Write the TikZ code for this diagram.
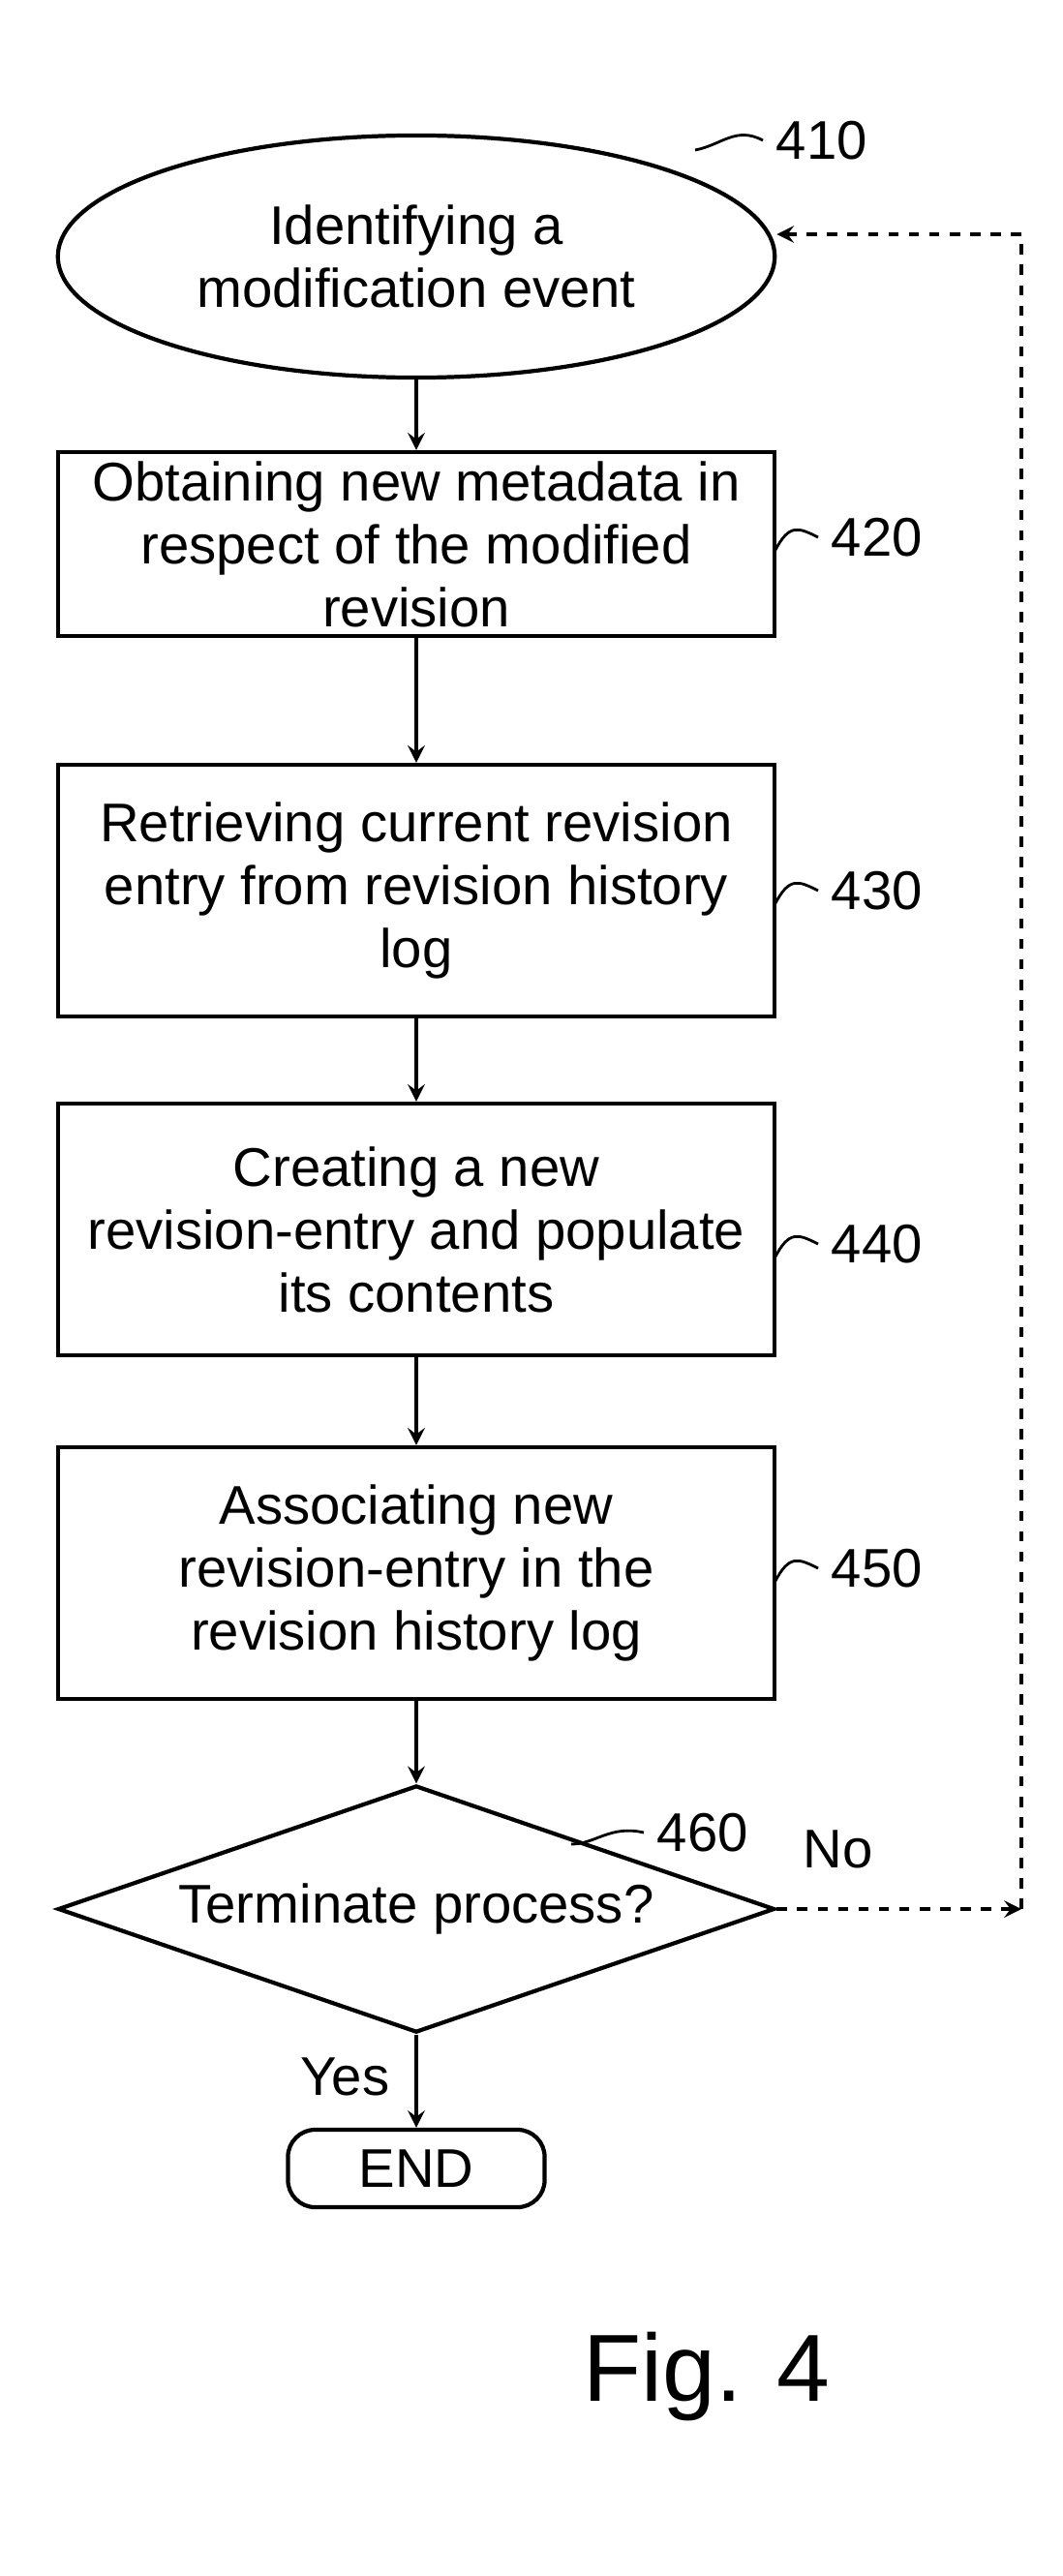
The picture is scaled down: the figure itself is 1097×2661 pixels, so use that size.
\documentclass[tikz,border=0pt]{standalone}
\usepackage{fontspec}
\setmainfont{Liberation Sans}
\usetikzlibrary{shapes.geometric}
\usetikzlibrary{calc}

\begin{document}
\begin{tikzpicture}[x=0.01cm, y=-0.01cm, line width=1.2pt,
    every node/.style={font=\fontsize{16}{18.5}\selectfont},
    box/.style={draw, rectangle, minimum width=7.4cm, align=center, inner sep=2pt},
    ref/.style={anchor=west},
    flow/.style={->, >=stealth}]
  \useasboundingbox (0, 0) rectangle (1097, 2661);

  \node[draw, ellipse, minimum width=7.4cm, minimum height=2.5cm, align=center] (start) at (430, 265) {Identifying a\\modification event};
  \node[box, minimum height=1.9cm] (s420) at (430, 562) {Obtaining new metadata in\\respect of the modified\\revision};
  \node[box, minimum height=2.6cm] (s430) at (430, 920) {Retrieving current revision\\entry from revision history\\log};
  \node[box, minimum height=2.6cm] (s440) at (430, 1270) {Creating a new\\revision-entry and populate\\its contents};
  \node[box, minimum height=2.6cm] (s450) at (430, 1625) {Associating new\\revision-entry in the\\revision history log};
  \node[draw, diamond, aspect=2.9, minimum width=7.4cm, minimum height=2.55cm, inner sep=0pt] (term) at (430, 1972) {Terminate process?};
  \node[draw, rounded corners=8pt, minimum width=2.65cm, minimum height=0.8cm] (end) at (430, 2240) {END};

  \draw[flow] (start) -- (s420);
  \draw[flow] (s420) -- (s430);
  \draw[flow] (s430) -- (s440);
  \draw[flow] (s440) -- (s450);
  \draw[flow] (s450) -- (term);
  \draw[flow] (term) -- node[left=4pt, pos=0.45] {Yes} (end);

  % loop back
  \coordinate (corner) at (1055, 1972);
  \draw[flow, dashed] (term.east) -- node[above=8pt, pos=0.25] {No} (corner);
  \draw[flow, dashed] (corner) -- (1055, 242) -- (start.east |- 0, 242);

  % reference numerals
  \node[ref] (r410) at (788, 145) {410};
  \draw[line width=0.8pt] (718, 155) .. controls (745, 150) and (760, 130) .. (r410.west);
  \node[ref] (r420) at (845, 555) {420};
  \draw[line width=0.8pt] (800, 570) .. controls (815, 540) and (825, 545) .. (r420.west);
  \node[ref] (r430) at (845, 920) {430};
  \draw[line width=0.8pt] (800, 935) .. controls (815, 905) and (825, 910) .. (r430.west);
  \node[ref] (r440) at (845, 1285) {440};
  \draw[line width=0.8pt] (800, 1300) .. controls (815, 1270) and (825, 1275) .. (r440.west);
  \node[ref] (r450) at (845, 1620) {450};
  \draw[line width=0.8pt] (800, 1635) .. controls (815, 1605) and (825, 1610) .. (r450.west);
  \node[ref] (r460) at (665, 1893) {460};
  \draw[line width=0.8pt] (590, 1905) .. controls (615, 1905) and (630, 1885) .. (r460.west);

  \node[font=\fontsize{28}{32}\selectfont] (fig) at (730, 2455) {Fig. 4};
\end{tikzpicture}
\end{document}
